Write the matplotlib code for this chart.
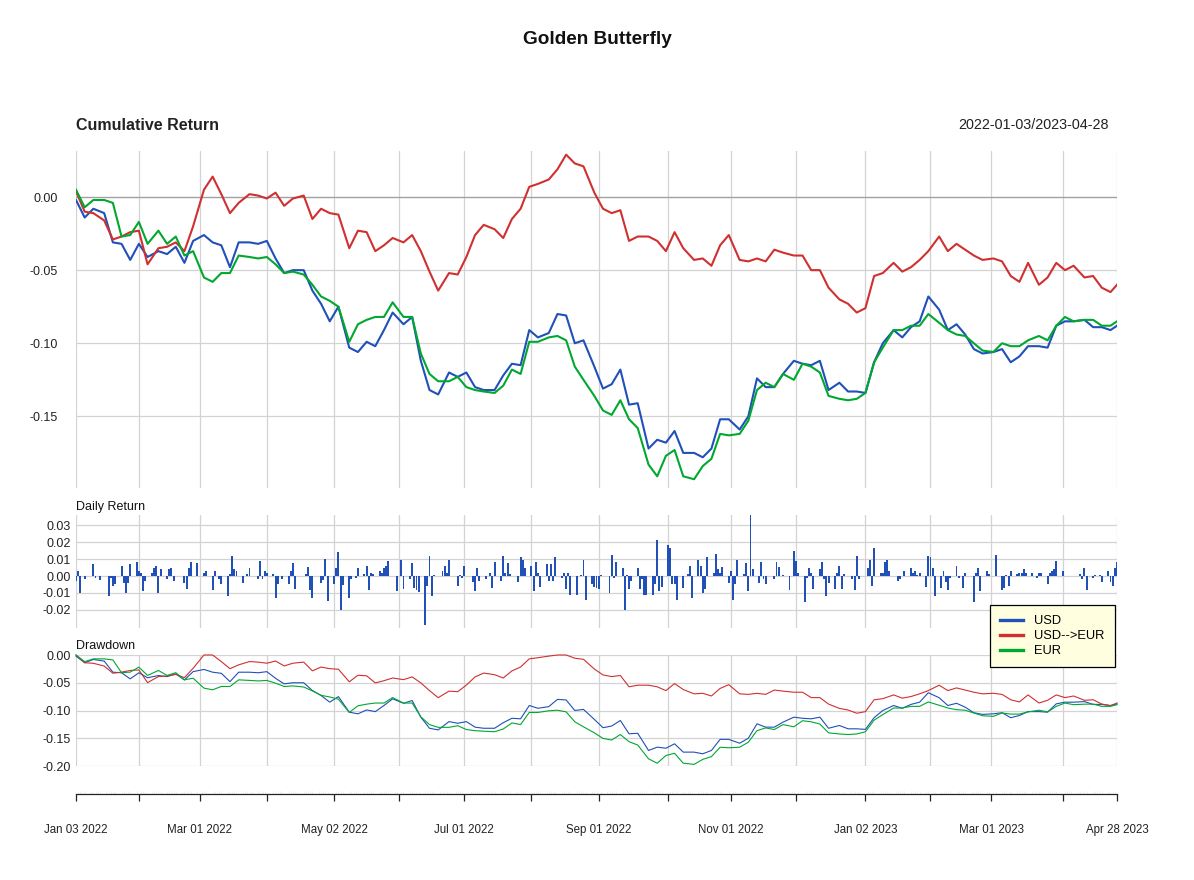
import matplotlib
matplotlib.use("Agg")
import matplotlib.pyplot as plt
import matplotlib.dates as mdates
from matplotlib.lines import Line2D
import numpy as np
import pandas as pd

plt.rcParams['font.family'] = ['Liberation Sans', 'DejaVu Sans']

# ---------------- data ----------------
start_date = "2022-01-03"
end_date = "2023-04-28"
series_names = ["USD", "USD-->EUR", "EUR"]
series_colors = ["#2050B8", "#D03030", "#00A830"]

# days since 2022-01-03 at which the cumulative returns were read
sample_day = [0, 4, 8, 13, 17, 21, 25, 29, 33, 38, 42, 46, 50, 54, 59, 63, 67, 71, 75, 80,
              84, 88, 92, 96, 100, 105, 109, 113, 117, 121, 126, 130, 134, 138, 142, 146, 151, 155, 159, 163,
              167, 172, 176, 180, 184, 188, 193, 197, 201, 205, 209, 213, 218, 222, 226, 230, 234, 239, 243, 247,
              251, 255, 259, 264, 268, 272, 276, 280, 285, 289, 293, 297, 301, 306, 310, 314, 318, 322, 326, 331,
              335, 339, 343, 347, 352, 356, 360, 364, 368, 372, 377, 381, 385, 389, 393, 398, 402, 406, 410, 414,
              418, 423, 427, 431, 435, 439, 444, 448, 452, 456, 460, 465, 469, 473, 477, 480]

cum_usd = [-0.002, -0.014, -0.008, -0.011, -0.031, -0.032, -0.043, -0.032, -0.041, -0.037,
           -0.039, -0.034, -0.045, -0.030, -0.026, -0.031, -0.033, -0.048, -0.031, -0.031,
           -0.032, -0.030, -0.042, -0.052, -0.050, -0.050, -0.064, -0.073, -0.085, -0.075,
           -0.103, -0.106, -0.099, -0.102, -0.091, -0.079, -0.087, -0.082, -0.112, -0.132,
           -0.135, -0.120, -0.123, -0.120, -0.130, -0.132, -0.132, -0.122, -0.114, -0.115,
           -0.091, -0.096, -0.093, -0.080, -0.081, -0.100, -0.098, -0.116, -0.131,
           -0.128, -0.118, -0.142, -0.141, -0.172, -0.166, -0.168, -0.160, -0.175, -0.175,
           -0.178, -0.172, -0.152, -0.152, -0.159, -0.150, -0.124, -0.130, -0.130, -0.121,
           -0.112, -0.114, -0.115, -0.112, -0.132, -0.127, -0.133, -0.133,
           -0.134, -0.113, -0.100, -0.091, -0.096, -0.089, -0.085, -0.068, -0.077, -0.091,
           -0.087, -0.094, -0.104, -0.107, -0.106, -0.104, -0.113, -0.109, -0.102, -0.102,
           -0.103, -0.088, -0.085, -0.085, -0.084, -0.089, -0.089, -0.091, -0.088]

cum_usd_eur = [0.004, -0.010, -0.011, -0.016, -0.029, -0.027, -0.024, -0.023, -0.046, -0.035,
               -0.034, -0.031, -0.037, -0.020, 0.005, 0.014, 0.002, -0.011, -0.004, 0.002,
               0.001, -0.001, 0.003, -0.006, -0.001, 0.001, -0.015, -0.008, -0.011, -0.012,
               -0.035, -0.023, -0.024, -0.037, -0.033, -0.028, -0.031, -0.026, -0.037, -0.051,
               -0.064, -0.052, -0.053, -0.041, -0.026, -0.019, -0.022, -0.028, -0.015, -0.008,
               0.007, 0.009, 0.012, 0.019, 0.029, 0.023, 0.021, 0.003, -0.008,
               -0.011, -0.009, -0.030, -0.027, -0.027, -0.030, -0.037, -0.024, -0.035, -0.043,
               -0.042, -0.047, -0.033, -0.026, -0.043, -0.044, -0.042, -0.044, -0.036, -0.038,
               -0.040, -0.040, -0.050, -0.050, -0.062, -0.070, -0.073, -0.079,
               -0.076, -0.054, -0.052, -0.045, -0.051, -0.048, -0.043, -0.037, -0.027, -0.037,
               -0.032, -0.036, -0.040, -0.043, -0.042, -0.044, -0.054, -0.058, -0.045, -0.060,
               -0.055, -0.045, -0.050, -0.047, -0.055, -0.054, -0.062, -0.065, -0.060]

cum_eur = [0.005, -0.007, -0.002, -0.002, -0.004, -0.027, -0.026, -0.017, -0.032, -0.023,
           -0.032, -0.027, -0.040, -0.037, -0.055, -0.058, -0.052, -0.052, -0.040, -0.041,
           -0.042, -0.041, -0.046, -0.052, -0.051, -0.053, -0.060, -0.068, -0.071, -0.075,
           -0.099, -0.087, -0.084, -0.082, -0.082, -0.072, -0.082, -0.082, -0.107, -0.121,
           -0.126, -0.126, -0.123, -0.130, -0.132, -0.133, -0.134, -0.129, -0.118, -0.121,
           -0.099, -0.099, -0.096, -0.095, -0.098, -0.116, -0.125, -0.136, -0.146,
           -0.149, -0.139, -0.152, -0.158, -0.183, -0.191, -0.177, -0.173, -0.191, -0.193,
           -0.184, -0.179, -0.162, -0.163, -0.162, -0.153, -0.132, -0.127, -0.130, -0.121,
           -0.125, -0.114, -0.116, -0.120, -0.136, -0.138, -0.139, -0.138,
           -0.134, -0.113, -0.103, -0.091, -0.091, -0.088, -0.088, -0.080, -0.086, -0.091,
           -0.094, -0.095, -0.100, -0.105, -0.106, -0.100, -0.102, -0.102, -0.098, -0.095,
           -0.098, -0.088, -0.082, -0.085, -0.084, -0.084, -0.088, -0.088, -0.085]

# daily returns of USD (days since 2022-01-03, value)
bar_day = [0, 1, 2, 4, 8, 9, 11, 15, 16, 17,
           18, 21, 22, 23, 24, 25, 28, 29, 30, 31,
           32, 35, 36, 37, 38, 39, 42, 43, 44, 45,
           50, 51, 52, 53, 56, 59, 60, 63, 64, 66,
           67, 70, 71, 72, 73, 74, 77, 79, 80, 84,
           85, 86, 87, 88, 91, 92, 93, 95, 98, 99,
           100, 101, 106, 107, 108, 109, 113, 114, 115, 116,
           119, 120, 121, 122, 123, 126, 127, 129, 130, 133,
           134, 135, 136, 137, 140, 141, 142, 143, 144, 148,
           150, 151, 154, 155, 156, 157, 158, 161, 162, 163,
           164, 165, 169, 170, 171, 172, 176, 177, 178, 179,
           183, 184, 185, 186, 189, 191, 192, 193, 196, 197,
           198, 199, 200, 204, 205, 206, 207, 210, 211, 212,
           213, 214, 217, 218, 219, 220, 221, 224, 225, 226,
           227, 228, 231, 233, 234, 235, 238, 239, 240, 241,
           242, 246, 247, 248, 249, 252, 253, 254, 255, 256,
           259, 260, 261, 262, 263, 266, 267, 268, 269, 270,
           273, 274, 275, 276, 277, 280, 282, 283, 284, 287,
           288, 289, 290, 291, 294, 295, 296, 297, 298, 301,
           302, 303, 304, 305, 308, 309, 310, 311, 312, 315,
           316, 317, 318, 322, 323, 324, 326, 329, 331, 332,
           333, 336, 337, 338, 339, 340, 343, 344, 345, 346,
           347, 350, 351, 352, 353, 354, 358, 359, 360, 361,
           365, 366, 367, 368, 371, 372, 373, 374, 375, 379,
           380, 382, 385, 386, 387, 388, 389, 392, 393, 394,
           395, 396, 399, 400, 401, 402, 403, 406, 407, 409,
           410, 414, 415, 416, 417, 420, 421, 424, 427, 428,
           429, 430, 431, 434, 435, 436, 437, 438, 441, 443,
           444, 445, 448, 449, 450, 451, 452, 455, 463, 464,
           465, 466, 469, 470, 472, 473, 476, 477, 478, 479,
           480]
bar_ret = [-0.003, 0.003, -0.010, -0.002, 0.007, -0.001, -0.0025, -0.012, -0.001, -0.006,
           -0.005, 0.006, -0.004, -0.010, -0.004, 0.007, 0.0085, 0.003, 0.002, -0.009,
           -0.003, 0.0015, 0.0045, 0.006, -0.010, 0.004, -0.002, 0.004, 0.005, -0.003,
           -0.004, -0.0075, 0.0045, 0.0085, 0.0075, 0.0015, 0.003, -0.008, 0.003, -0.002,
           -0.005, -0.012, 0.001, 0.012, 0.004, 0.003, -0.004, 0.001, 0.0045, -0.002,
           0.009, -0.0015, 0.003, 0.0015, 0.001, -0.013, -0.0045, -0.002, -0.005, 0.003,
           0.0075, -0.0075, 0.001, 0.0055, -0.008, -0.013, -0.004, -0.0025, 0.010, -0.015,
           -0.005, 0.0045, 0.014, -0.020, -0.0055, -0.013, -0.0015, -0.001, 0.0045, 0.001,
           0.006, -0.008, 0.0015, 0.001, 0.003, 0.002, 0.005, 0.006, 0.009, -0.009,
           0.0095, -0.0075, -0.002, 0.0075, -0.007, -0.008, -0.0095, -0.029, -0.006, 0.0115,
           -0.012, 0.0005, 0.003, 0.006, 0.002, 0.0095, -0.006, 0.0005, -0.001, 0.006,
           -0.0035, -0.009, 0.0045, -0.003, -0.002, 0.0015, -0.007, 0.0085, -0.003, 0.0115,
           0.002, 0.0075, 0.001, -0.0035, 0.011, 0.0095, 0.0045, 0.006, -0.009, 0.008,
           0.0015, -0.0065, 0.007, -0.003, 0.007, -0.003, 0.011, -0.001, 0.0015, -0.0075,
           0.002, -0.011, -0.011, 0.0005, 0.0095, -0.014, -0.005, -0.0065, -0.007, -0.0075,
           0.0005, -0.010, 0.0125, -0.001, 0.0085, 0.0045, -0.020, 0.0005, -0.0075, -0.003,
           0.0045, -0.0075, -0.002, -0.011, -0.011, -0.011, -0.005, 0.021, -0.009, -0.0065,
           0.0185, 0.0165, -0.005, -0.005, -0.014, -0.007, 0.001, 0.006, -0.013, 0.0095,
           0.006, -0.010, -0.0075, 0.011, 0.0015, 0.013, 0.004, 0.002, 0.0055, -0.004,
           0.003, -0.014, -0.005, 0.0095, 0.001, 0.0075, -0.009, 0.036, 0.004, -0.004,
           0.008, -0.002, -0.0045, -0.002, 0.008, 0.0055, 0.0005, -0.008, 0.015, 0.009,
           0.002, -0.0155, -0.001, 0.005, 0.002, -0.0075, 0.004, 0.008, -0.002, -0.012,
           -0.004, -0.0075, 0.0015, 0.006, -0.0075, 0.001, -0.002, -0.008, 0.012, -0.0015,
           0.0045, 0.0095, -0.006, 0.0165, 0.0015, 0.002, 0.008, 0.0095, 0.003, -0.003,
           -0.002, 0.003, 0.0045, 0.002, 0.003, 0.0005, 0.0015, -0.0065, 0.0115, 0.011,
           0.0045, -0.012, -0.007, 0.003, -0.0035, -0.008, -0.001, 0.006, -0.001, -0.007,
           0.002, -0.0155, 0.0015, 0.0045, -0.009, 0.003, 0.001, 0.0125, -0.008, -0.007,
           0.0005, -0.006, 0.003, 0.001, 0.0015, 0.002, 0.004, 0.0015, 0.002, -0.001,
           0.0015, 0.002, -0.005, 0.002, 0.003, 0.004, 0.009, 0.003, 0.001, -0.002,
           0.005, -0.008, -0.001, 0.0005, 0.0005, -0.0035, 0.003, -0.0035, -0.006, 0.0045,
           0.008]

tick_dates = ["2022-01-03", "2022-02-01", "2022-03-01", "2022-04-01", "2022-05-02", "2022-06-01",
              "2022-07-01", "2022-08-01", "2022-09-01", "2022-10-03", "2022-11-01", "2022-12-01",
              "2023-01-02", "2023-02-01", "2023-03-01", "2023-04-03", "2023-04-28"]
tick_labels = ["Jan 03 2022", "", "Mar 01 2022", "", "May 02 2022", "", "Jul 01 2022", "",
               "Sep 01 2022", "", "Nov 01 2022", "", "Jan 02 2023", "", "Mar 01 2023", "",
               "Apr 28 2023"]

cum_ticks = [0.0, -0.05, -0.10, -0.15]
ret_ticks = [0.03, 0.02, 0.01, 0.0, -0.01, -0.02]
dd_ticks = [0.0, -0.05, -0.10, -0.15, -0.20]

# ---------------- derived ----------------
start = pd.Timestamp(start_date)
end = pd.Timestamp(end_date)
cum_dates = start + pd.to_timedelta(sample_day, unit="D")
bar_dates = start + pd.to_timedelta(bar_day, unit="D")
tdates = pd.to_datetime(tick_dates)
cum_series = [cum_usd, cum_usd_eur, cum_eur]


def drawdown(c):
    w = 1.0 + np.asarray(c)
    peak = np.maximum.accumulate(np.maximum(w, 1.0))
    return w / peak - 1.0


# ---------------- figure ----------------
W, H = 1194, 880
fig = plt.figure(figsize=(W / 100, H / 100), dpi=100)


def rect(l, t, r, b):
    return [l / W, 1 - b / H, (r - l) / W, (b - t) / H]


L, R = 76, 1117
GRID = "#D3D3D3"
TXT = "#222222"
ax1 = fig.add_axes(rect(L, 151, R, 488))
ax2 = fig.add_axes(rect(L, 515, R, 628))
ax3 = fig.add_axes(rect(L, 655, R, 766))
ax4 = fig.add_axes(rect(L, 793, R, 793.5))


def style(ax, yticks, ylim, pad):
    ax.set_xlim(start, end)
    ax.set_ylim(*ylim)
    for s in ax.spines.values():
        s.set_visible(False)
    ax.set_xticks([])
    ax.set_yticks(yticks)
    ax.set_yticklabels([f"{v:.2f}" for v in yticks], fontsize=9, color=TXT)
    ax.tick_params(axis="y", length=0, pad=pad)
    for d in tdates:
        ax.axvline(d, color=GRID, lw=0.9, zorder=0)
    for v in yticks:
        ax.axhline(v, color=GRID, lw=0.9, zorder=0)
    ax.patch.set_alpha(0)


style(ax1, cum_ticks, (-0.199, 0.0315), 13)
style(ax2, ret_ticks, (-0.0306, 0.0359), 4)
style(ax3, dd_ticks, (-0.2, 0.0), 4)

ax1.axhline(0, color="#A0A0A0", lw=0.9, zorder=1)
for vals, col in zip(cum_series, series_colors):
    ax1.plot(cum_dates, vals, color=col, lw=1.5, zorder=3)

ax2.bar(bar_dates, bar_ret, width=0.9, color=series_colors[0], linewidth=0, zorder=3)

for vals, col in zip(cum_series, series_colors):
    ax3.plot(cum_dates, drawdown(vals), color=col, lw=0.8, zorder=3, clip_on=False)

# x axis
ax4.set_xlim(start, end)
ax4.set_ylim(0, 1)
for k, s in ax4.spines.items():
    s.set_visible(k == "bottom")
ax4.spines["bottom"].set_color("#222222")
ax4.spines["bottom"].set_linewidth(0.9)
ax4.set_yticks([])
ax4.set_xticks(tdates)
ax4.set_xticklabels(tick_labels, fontsize=8.3, color=TXT)
ax4.tick_params(axis="x", length=5, width=0.9, color="#222222", pad=17)
ax4.xaxis.set_minor_locator(mdates.WeekdayLocator(byweekday=(0, 1, 2, 3, 4)))
ax4.tick_params(axis="x", which="minor", direction="in", length=2.5, width=0.4, color="#E6E6E6")
ax4.patch.set_alpha(0)

# texts
fig.text(597 / W, 1 - 40 / H, "Golden Butterfly", ha="center", va="center",
         fontsize=13.7, fontweight="bold", color="#111111")
fig.text(L / W, 1 - 125 / H, "Cumulative Return", ha="left", va="center",
         fontsize=11.5, fontweight="bold", color=TXT)
fig.text(1109 / W, 1 - 125 / H, f"{start_date}/{end_date}", ha="right", va="center",
         fontsize=10.4, color=TXT)
fig.text(L / W, 1 - 507 / H, "Daily Return", ha="left", va="center", fontsize=9, color="#111111")
fig.text(L / W, 1 - 646 / H, "Drawdown", ha="left", va="center", fontsize=9, color="#111111")

# legend
handles = [Line2D([0], [0], color=c, lw=2.4) for c in series_colors]
leg = fig.legend(handles, series_names, loc="upper left",
                 bbox_to_anchor=(990 / W, 1 - 605 / H), fontsize=9.3,
                 frameon=True, fancybox=False, edgecolor="black", facecolor="#FFFFE0",
                 framealpha=1, handlelength=1.75, handletextpad=0.85, labelspacing=0.22,
                 borderpad=0.8, borderaxespad=0)
leg.get_frame().set_linewidth(0.9)
leg.set_zorder(10)

fig.savefig("out.png", dpi=100)
